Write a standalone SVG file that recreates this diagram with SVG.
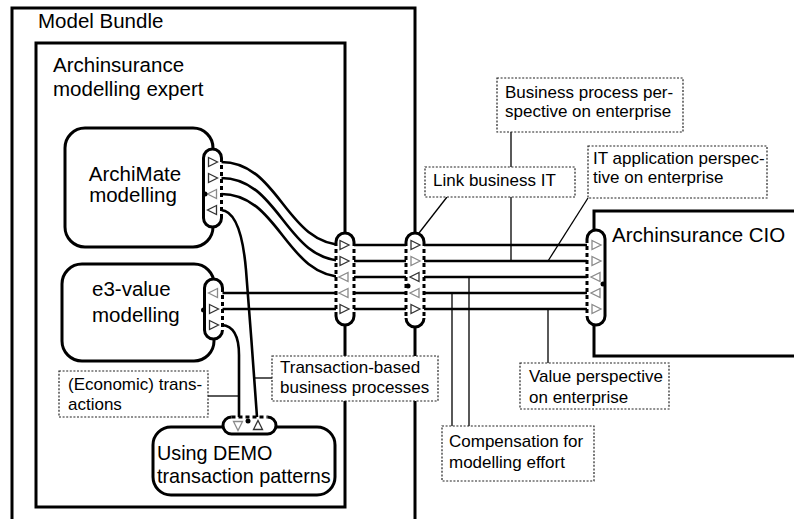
<svg xmlns="http://www.w3.org/2000/svg" width="794" height="519" viewBox="0 0 794 519">
<style>
.box{fill:none;stroke:#000;stroke-width:3}
.node{fill:#fff;stroke:#000;stroke-width:3}
.t{font-family:"Liberation Sans",Arial,sans-serif;font-size:20.5px;fill:#000}
.ts{font-family:"Liberation Sans",Arial,sans-serif;font-size:19.8px;fill:#000}
.lt{font-family:"Liberation Sans",Arial,sans-serif;font-size:17px;fill:#000}
.lbl{fill:#fff;stroke:#222;stroke-width:1.2;stroke-dasharray:2 1.6}
.lc{fill:none;stroke:#000;stroke-width:1.3}
.con{fill:none;stroke:#000;stroke-width:2.6}
.pf{fill:#fff;stroke:none}
.ps{fill:none;stroke:#000;stroke-width:3}
.pd{fill:none;stroke:#000;stroke-width:3;stroke-dasharray:4 3}
.dk{fill:#fff;stroke:#333;stroke-width:1.3}
.lg{fill:#fff;stroke:#8a8a8a;stroke-width:1.3}
.dot{fill:#000}
</style>
<defs>
<path id="tR" d="M-4,-4.5 L5,0 L-4,4.5 Z"/>
<path id="tL" d="M4,-4.5 L-5,0 L4,4.5 Z"/>
<path id="tD" d="M-4.5,-4 L4.5,-4 L0,5 Z"/>
<path id="tU" d="M-4.5,4 L4.5,4 L0,-5 Z"/>
</defs>

<g id="model-bundle">
<rect class="box" x="12" y="8" width="403" height="530"/>
<text class="t" x="38" y="28">Model Bundle</text>
</g>

<g id="modelling-expert">
<rect class="box" x="36" y="43" width="309" height="464"/>
<text class="t" x="53" y="72">Archinsurance</text>
<text class="t" x="53" y="96">modelling expert</text>
</g>

<g id="archimate">
<rect class="node" x="65" y="128" width="148" height="119" rx="20"/>
<text class="t" x="135" y="181" text-anchor="middle">ArchiMate</text>
<text class="t" x="133" y="202" text-anchor="middle">modelling</text>
</g>

<g id="e3value">
<rect class="node" x="62" y="264" width="152" height="97" rx="20"/>
<text class="t" x="92" y="296">e3-value</text>
<text class="t" x="92" y="322">modelling</text>
</g>

<g id="demo">
<rect class="node" x="153" y="427" width="182" height="68" rx="18"/>
<text class="ts" x="157" y="460">Using DEMO</text>
<text class="ts" x="157" y="483">transaction patterns</text>
</g>

<g id="cio">
<path class="box" d="M800,211 H594 V356 H800"/>
<text class="t" x="612" y="242">Archinsurance CIO</text>
</g>

<g id="connectors">
<path class="con" d="M212,162 H221 C280,162 285,245 345,245 H596"/>
<path class="con" d="M212,178 H221 C280,178 285,261 345,261 H596"/>
<path class="con" d="M212,194 H221 C280,194 285,277 345,277 H596"/>
<path class="con" d="M212,210 H221 C236,211 243,235 246,270 S255,390 257,417"/>
<path class="con" d="M213,293 H596"/>
<path class="con" d="M213,309 H596"/>
<path class="con" d="M213,325 H222 C234,326 239,338 239,355 V417"/>
</g>

<g id="port-archimate">
<rect class="pf" x="203.5" y="149" width="18" height="78" rx="9"/>
<path class="ps" d="M221.5,158 A9,9 0 0 0 203.5,158 V218 A9,9 0 0 0 221.5,218"/>
<path class="pd" d="M221.5,158 V218"/>
<use href="#tR" x="212.5" y="162" class="dk"/>
<use href="#tR" x="212.5" y="178" class="dk"/>
<use href="#tL" x="212.5" y="194" class="lg"/>
<use href="#tL" x="212.5" y="210" class="dk"/>
<circle class="dot" cx="205" cy="194" r="2.5"/>
</g>

<g id="port-e3value">
<rect class="pf" x="204.5" y="279" width="18" height="60" rx="9"/>
<path class="ps" d="M222.5,288 A9,9 0 0 0 204.5,288 V330 A9,9 0 0 0 222.5,330"/>
<path class="pd" d="M222.5,288 V330"/>
<use href="#tL" x="213.5" y="293" class="lg"/>
<use href="#tR" x="213.5" y="309" class="dk"/>
<use href="#tR" x="213.5" y="325" class="dk"/>
<circle class="dot" cx="203.5" cy="310" r="2.5"/>
</g>

<g id="port-expert">
<rect class="pf" x="336" y="233" width="18" height="92" rx="9"/>
<path class="ps" d="M336,242 A9,9 0 0 1 354,242 M354,316 A9,9 0 0 1 336,316"/>
<path class="pd" d="M336,242 V316 M354,242 V316"/>
<use href="#tR" x="344" y="245" class="dk"/>
<use href="#tR" x="344" y="261" class="dk"/>
<use href="#tL" x="344" y="277" class="lg"/>
<use href="#tL" x="344" y="293" class="lg"/>
<use href="#tR" x="344" y="309" class="dk"/>
</g>

<g id="port-bundle">
<rect class="pf" x="406" y="233" width="18" height="94" rx="9"/>
<path class="ps" d="M406,242 A9,9 0 0 1 424,242 M424,318 A9,9 0 0 1 406,318"/>
<path class="pd" d="M406,242 V318 M424,242 V318"/>
<use href="#tR" x="415" y="245" class="dk"/>
<use href="#tR" x="415" y="261" class="lg"/>
<use href="#tL" x="415" y="277" class="dk"/>
<use href="#tL" x="415" y="293" class="lg"/>
<use href="#tR" x="415" y="309" class="dk"/>
<circle class="dot" cx="408" cy="286" r="2.5"/>
</g>

<g id="port-cio">
<rect class="pf" x="587" y="230" width="18" height="95" rx="9"/>
<path class="ps" d="M587,239 A9,9 0 0 1 605,239 V316 A9,9 0 0 1 587,316"/>
<path class="pd" d="M587,239 V316"/>
<use href="#tR" x="596" y="245" class="lg"/>
<use href="#tR" x="596" y="261" class="lg"/>
<use href="#tL" x="596" y="277" class="lg"/>
<use href="#tL" x="596" y="293" class="lg"/>
<use href="#tR" x="596" y="309" class="lg"/>
<circle class="dot" cx="603" cy="284" r="2.5"/>
</g>

<g id="port-demo">
<rect class="pf" x="223" y="417" width="53" height="17" rx="8.5"/>
<path class="ps" d="M231.5,417 A8.5,8.5 0 0 0 231.5,434 H267.5 A8.5,8.5 0 0 0 267.5,417"/>
<path class="pd" d="M231.5,417 H267.5"/>
<use href="#tD" x="238" y="425.5" class="lg"/>
<use href="#tU" x="258" y="425.5" class="dk"/>
<circle class="dot" cx="248" cy="421" r="2.5"/>
</g>

<g id="label-connectors">
<path class="lc" d="M447,197 L419,233"/>
<path class="lc" d="M511,132 V261"/>
<path class="lc" d="M588,198 L548,261"/>
<path class="lc" d="M548,363 V309"/>
<path class="lc" d="M452,426 V293 M469,426 V277"/>
<path class="lc" d="M272,378 H255"/>
<path class="lc" d="M208,396 H239"/>
</g>

<g id="label-link">
<rect class="lbl" x="425" y="167" width="150" height="30"/>
<text class="lt" x="433" y="186">Link business IT</text>
</g>
<g id="label-bp">
<rect class="lbl" x="497" y="78" width="186" height="54"/>
<text class="lt" x="505" y="98">Business process per-</text>
<text class="lt" x="505" y="117">spective on enterprise</text>
</g>
<g id="label-it">
<rect class="lbl" x="588" y="146" width="179" height="52"/>
<text class="lt" x="593" y="164">IT application perspec-</text>
<text class="lt" x="593" y="183">tive on enterprise</text>
</g>
<g id="label-value">
<rect class="lbl" x="520" y="363" width="149" height="46"/>
<text class="lt" x="529" y="382">Value perspective</text>
<text class="lt" x="529" y="403">on enterprise</text>
</g>
<g id="label-comp">
<rect class="lbl" x="442" y="426" width="152" height="55"/>
<text class="lt" x="449" y="447">Compensation for</text>
<text class="lt" x="449" y="468">modelling effort</text>
</g>
<g id="label-tx">
<rect class="lbl" x="272" y="356" width="166" height="45"/>
<text class="lt" x="280" y="373">Transaction-based</text>
<text class="lt" x="280" y="393">business processes</text>
</g>
<g id="label-econ">
<rect class="lbl" x="59" y="371" width="149" height="46"/>
<text class="lt" x="68" y="390">(Economic) trans-</text>
<text class="lt" x="68" y="410">actions</text>
</g>
</svg>
